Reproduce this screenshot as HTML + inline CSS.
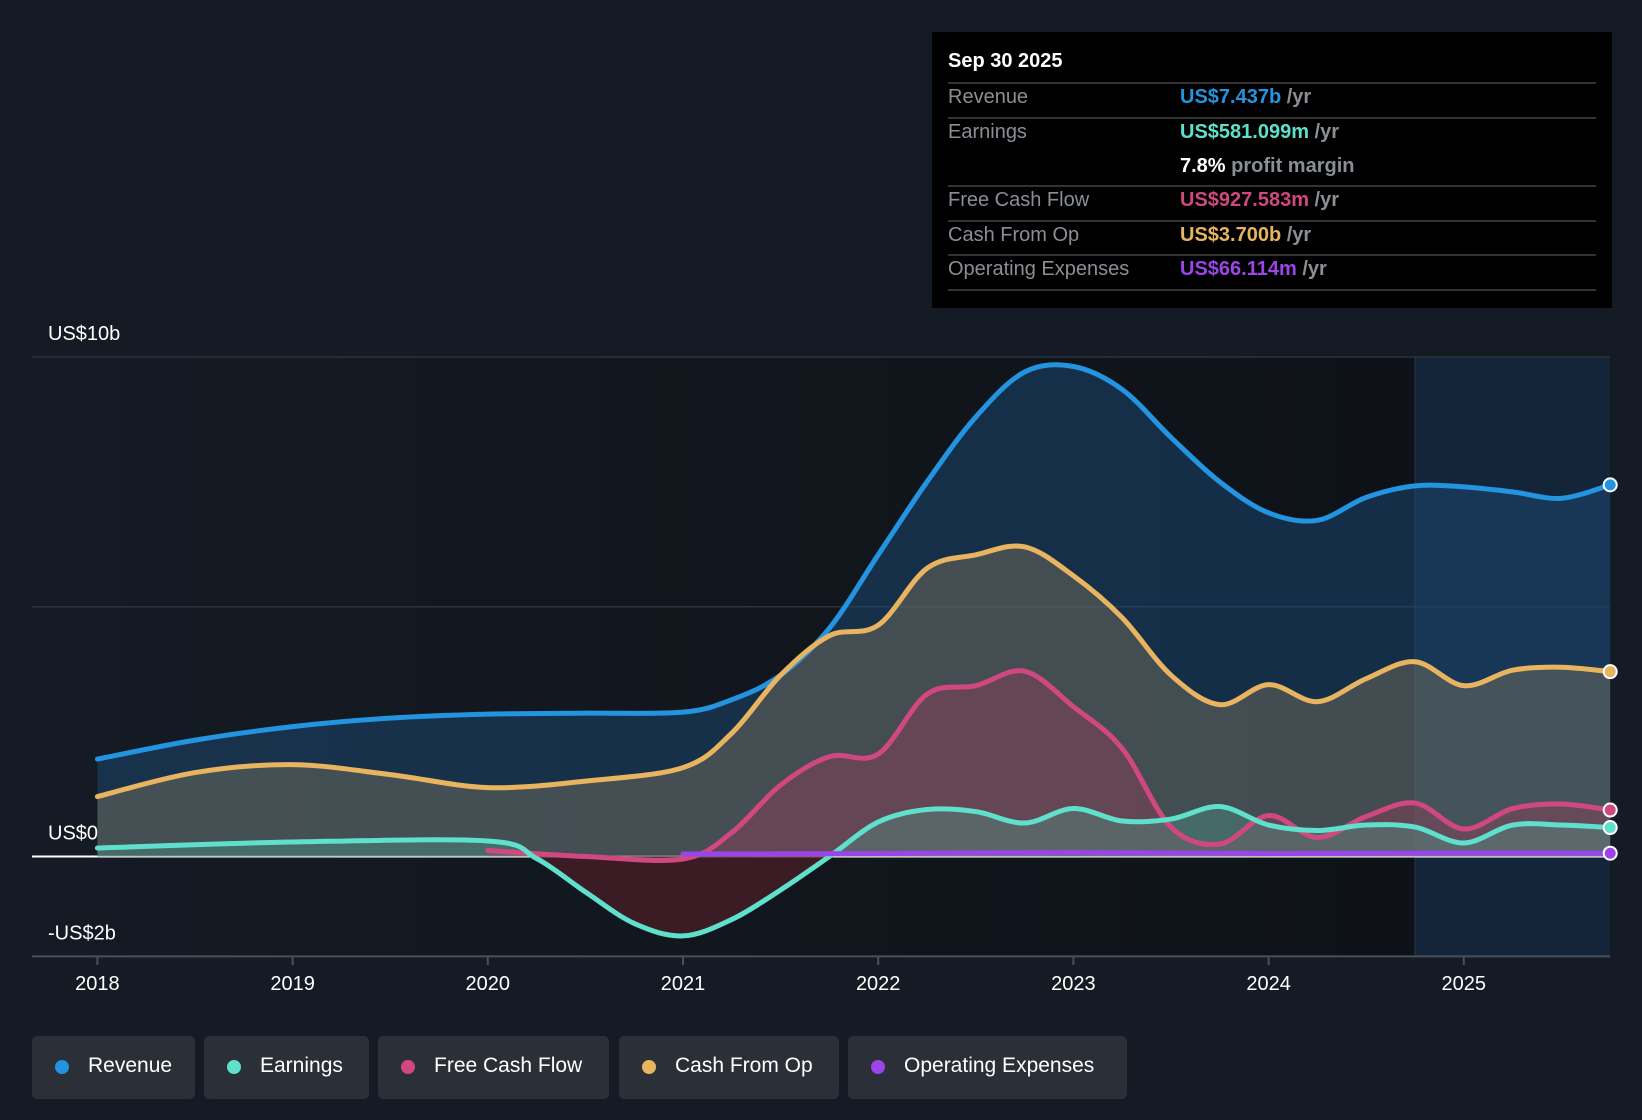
<!DOCTYPE html>
<html><head><meta charset="utf-8">
<style>
html,body{margin:0;padding:0;background:#151b24;width:1642px;height:1120px;overflow:hidden;font-family:"Liberation Sans",sans-serif}
#tip{position:absolute;left:932px;top:32px;width:680px;height:276px;background:#000;color:#fff}
.row{position:absolute;left:16px;width:648px;font-size:20px;color:#8a8f96}
.row .v{position:absolute;left:232px;font-weight:bold}
.sep{position:absolute;left:16px;width:648px;height:2px;background:#333}
.leg{position:absolute;top:1036px;height:63px;background:#2a2f38;border-radius:5px;color:#fff;font-size:21px;line-height:60px}
.leg i{position:absolute;left:23px;top:24px;width:14px;height:14px;border-radius:7px}
.leg span{position:absolute;left:56px}
</style></head><body>
<svg id="chart" width="1642" height="1120" style="position:absolute;left:0;top:0">
<defs>
<linearGradient id="past" x1="0" x2="1" y1="0" y2="0"><stop offset="0" stop-color="#151b24"/><stop offset="1" stop-color="#0e1218"/></linearGradient>
<clipPath id="above"><rect x="0" y="0" width="1642" height="856.5"/></clipPath>
<clipPath id="below"><rect x="0" y="856.5" width="1642" height="300"/></clipPath>
</defs>
<rect x="32" y="357" width="1383" height="600" fill="url(#past)"/>
<rect x="1415" y="357" width="195" height="600" fill="#142539"/>
<line x1="1415" y1="357" x2="1415" y2="957" stroke="#24364a" stroke-width="1"/>
<g id="grid"></g><g id="areas"></g><g id="lines"></g><g id="labels"></g>
</svg>
<div id="tip">
<div style="position:absolute;left:16px;top:18px;font-size:20px;font-weight:bold">Sep 30 2025</div>
<div class="sep" style="top:50px"></div>
<div class="row" style="top:54px">Revenue<span class="v" style="color:#2394df">US$7.437b <b style="color:#8a8f96">/yr</b></span></div>
<div class="sep" style="top:85px"></div>
<div class="row" style="top:89px">Earnings<span class="v" style="color:#5fe0cc">US$581.099m <b style="color:#8a8f96">/yr</b></span></div>
<div class="row" style="top:123px">&nbsp;<span class="v" style="color:#fff">7.8% <b style="color:#8a8f96">profit margin</b></span></div>
<div class="sep" style="top:153px"></div>
<div class="row" style="top:157px">Free Cash Flow<span class="v" style="color:#d0487f">US$927.583m <b style="color:#8a8f96">/yr</b></span></div>
<div class="sep" style="top:188px"></div>
<div class="row" style="top:192px">Cash From Op<span class="v" style="color:#e8b460">US$3.700b <b style="color:#8a8f96">/yr</b></span></div>
<div class="sep" style="top:222px"></div>
<div class="row" style="top:226px">Operating Expenses<span class="v" style="color:#9b45e8">US$66.114m <b style="color:#8a8f96">/yr</b></span></div>
<div class="sep" style="top:257px"></div>
</div>
<div class="leg" style="left:32px;width:163px"><i style="background:#2394df"></i><span>Revenue</span></div>
<div class="leg" style="left:204px;width:165px"><i style="background:#5fe0cc"></i><span>Earnings</span></div>
<div class="leg" style="left:378px;width:231px"><i style="background:#d0487f"></i><span>Free Cash Flow</span></div>
<div class="leg" style="left:619px;width:220px"><i style="background:#e8b460"></i><span>Cash From Op</span></div>
<div class="leg" style="left:848px;width:279px"><i style="background:#9b45e8"></i><span>Operating Expenses</span></div>
<script>
const quarters=[2018,2018.5,2019,2019.5,2020,2020.5,2021,2021.25,2021.5,2021.75,2022,2022.25,2022.5,2022.75,2023,2023.25,2023.5,2023.75,2024,2024.25,2024.5,2024.75,2025,2025.25,2025.5,2025.75];
const revenue=[1.95,2.33,2.6,2.77,2.85,2.87,2.89,3.14,3.63,4.57,6.04,7.5,8.8,9.7,9.81,9.35,8.39,7.5,6.88,6.73,7.19,7.42,7.4,7.3,7.17,7.44];
const cashFromOp=[1.2,1.68,1.84,1.64,1.38,1.51,1.78,2.47,3.63,4.42,4.63,5.77,6.04,6.2,5.62,4.78,3.63,3.04,3.44,3.1,3.56,3.9,3.42,3.73,3.79,3.7];
const earnQ=[2018,2019,2020,2020.25,2020.5,2020.75,2021,2021.25,2021.5,2021.75,2022,2022.25,2022.5,2022.75,2023,2023.25,2023.5,2023.75,2024,2024.25,2024.5,2024.75,2025,2025.25,2025.5,2025.75];
const earnings=[0.17,0.29,0.31,-0.04,-0.71,-1.34,-1.59,-1.26,-0.67,0,0.69,0.94,0.9,0.67,0.96,0.71,0.75,1.0,0.63,0.52,0.63,0.59,0.27,0.63,0.63,0.58];
const fcfQ=[2020,2020.5,2021,2021.25,2021.5,2021.75,2022,2022.25,2022.5,2022.75,2023,2023.25,2023.5,2023.75,2024,2024.25,2024.5,2024.75,2025,2025.25,2025.5,2025.75];
const fcf=[0.12,0,-0.05,0.48,1.43,2.0,2.05,3.25,3.42,3.71,3.0,2.16,0.59,0.25,0.82,0.38,0.8,1.07,0.55,0.96,1.05,0.93];
const opexQ=[2021,2022,2023,2024,2025,2025.75];
const opex=[0.05,0.06,0.08,0.06,0.07,0.066];
const yTicks=[10,5,0,-2];
const yLabels=["US$10b","","US$0","-US$2b"];
const xTicks=[2018,2019,2020,2021,2022,2023,2024,2025];

const X=t=>97.4+(t-2018)*195.2;
const Y=v=>856.5-v*49.95;
const NS="http://www.w3.org/2000/svg";
function mk(tag,attrs,parent){const e=document.createElementNS(NS,tag);for(const k in attrs)e.setAttribute(k,attrs[k]);document.getElementById(parent).appendChild(e);return e;}
function path(xs,ys){const p=xs.map((t,i)=>[X(t),Y(ys[i])]);let d="M"+p[0][0]+","+p[0][1];
 for(let i=0;i<p.length-1;i++){const p0=p[Math.max(0,i-1)],p1=p[i],p2=p[i+1],p3=p[Math.min(p.length-1,i+2)];
  const c1=[p1[0]+(p2[0]-p0[0])/6,p1[1]+(p2[1]-p0[1])/6],c2=[p2[0]-(p3[0]-p1[0])/6,p2[1]-(p3[1]-p1[1])/6];
  d+=` C${c1[0]},${c1[1]} ${c2[0]},${c2[1]} ${p2[0]},${p2[1]}`;}return d;}
yTicks.forEach((v,i)=>{
 const l=mk("line",{x1:32,x2:1610,y1:Y(v),y2:Y(v),stroke:v===0?"#ffffff":(v===-2?"#4a5058":"#2c333c"),"stroke-width":v===0?2:(v===-2?2:1.5)},"grid");
 
 
 if(yLabels[i]){const t=mk("text",{x:48,y:Y(v)-17,fill:"#fff","font-size":20},"labels");t.textContent=yLabels[i];
 
 }
});
xTicks.forEach(yr=>{
 const l=mk("line",{x1:X(yr),x2:X(yr),y1:957,y2:965,stroke:"#4a5058","stroke-width":2},"grid");
 
 
 const t=mk("text",{x:X(yr),y:990,fill:"#fff","font-size":20,"text-anchor":"middle"},"labels");t.textContent=yr;
 
 
});
const series=[
 {n:"revenue",xs:quarters,ys:revenue,c:"#2394df",f:"#1c4a75",o:0.5,neg:null},
 {n:"cash-from-op",xs:quarters,ys:cashFromOp,c:"#e8b460",f:"#8a7e62",o:0.4,neg:null},
 {n:"free-cash-flow",xs:fcfQ,ys:fcf,c:"#d0487f",f:"#a03a5a",o:0.35,neg:null},
 {n:"earnings",xs:earnQ,ys:earnings,c:"#5fe0cc",f:"#4aa090",o:0.35,neg:"#4a1f28"},
 {n:"operating-expenses",xs:opexQ,ys:opex,c:"#9b45e8",f:"#9b45e8",o:0,neg:null}
];
series.forEach(s=>{
 const d=path(s.xs,s.ys);
 if(s.o>0){const ad=d+` L${X(s.xs[s.xs.length-1])},${Y(0)} L${X(s.xs[0])},${Y(0)} Z`;
 const a=mk("path",{d:ad,fill:s.f,"fill-opacity":s.o,"clip-path":s.neg?"url(#above)":""},"areas");
 
 
 if(s.neg){const b=mk("path",{d:ad,fill:s.neg,"fill-opacity":0.75,"clip-path":"url(#below)"},"areas");
 
 }}
 const l=mk("path",{d:d,fill:"none",stroke:s.c,"stroke-width":5,"stroke-linecap":"round"},"lines");
 
 
 const last=s.xs.length-1;
 const c=mk("circle",{cx:X(s.xs[last]),cy:Y(s.ys[last]),r:6.5,fill:s.c,stroke:"#fff","stroke-width":2},"lines");
 
 
});
</script>
</body></html>
